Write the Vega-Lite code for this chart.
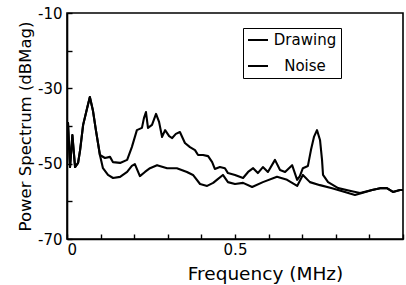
{
  "$schema": "https://vega.github.io/schema/vega-lite/v6.json",
  "autosize": {"type": "none"},
  "padding": {"left": 67, "top": 13, "right": 3, "bottom": 46},
  "width": 336,
  "height": 226,
  "background": "white",
  "config": {
    "font": "DejaVu Sans",
    "view": {"stroke": "black", "strokeWidth": 1.6},
    "axis": {"domainColor": "black", "domainWidth": 1.6, "tickColor": "black", "tickWidth": 1.4, "labelColor": "black", "titleColor": "black", "grid": false, "titleFontWeight": "normal"}
  },
  "data": {"values": [
    {"s":"Drawing","f":0.0,"db":-46.4},{"s":"Drawing","f":0.003,"db":-39.2},{"s":"Drawing","f":0.009,"db":-50.9},{"s":"Drawing","f":0.016,"db":-42.4},{"s":"Drawing","f":0.024,"db":-50.9},{"s":"Drawing","f":0.033,"db":-49.8},{"s":"Drawing","f":0.039,"db":-46.4},{"s":"Drawing","f":0.048,"db":-39.7},{"s":"Drawing","f":0.06,"db":-35.2},{"s":"Drawing","f":0.068,"db":-32.3},{"s":"Drawing","f":0.077,"db":-35.8},{"s":"Drawing","f":0.086,"db":-41.1},{"s":"Drawing","f":0.098,"db":-47.7},{"s":"Drawing","f":0.113,"db":-48.5},{"s":"Drawing","f":0.128,"db":-48.2},{"s":"Drawing","f":0.137,"db":-49.6},{"s":"Drawing","f":0.158,"db":-49.8},{"s":"Drawing","f":0.179,"db":-49.0},{"s":"Drawing","f":0.193,"db":-45.6},{"s":"Drawing","f":0.208,"db":-41.1},{"s":"Drawing","f":0.223,"db":-40.5},{"s":"Drawing","f":0.229,"db":-37.9},{"s":"Drawing","f":0.235,"db":-36.3},{"s":"Drawing","f":0.241,"db":-40.5},{"s":"Drawing","f":0.253,"db":-39.7},{"s":"Drawing","f":0.265,"db":-36.8},{"s":"Drawing","f":0.274,"db":-38.9},{"s":"Drawing","f":0.283,"db":-42.9},{"s":"Drawing","f":0.292,"db":-41.1},{"s":"Drawing","f":0.304,"db":-42.7},{"s":"Drawing","f":0.313,"db":-43.2},{"s":"Drawing","f":0.324,"db":-42.1},{"s":"Drawing","f":0.336,"db":-41.6},{"s":"Drawing","f":0.351,"db":-44.5},{"s":"Drawing","f":0.366,"db":-45.6},{"s":"Drawing","f":0.381,"db":-46.4},{"s":"Drawing","f":0.39,"db":-47.7},{"s":"Drawing","f":0.405,"db":-47.7},{"s":"Drawing","f":0.42,"db":-48.0},{"s":"Drawing","f":0.432,"db":-49.6},{"s":"Drawing","f":0.44,"db":-51.4},{"s":"Drawing","f":0.455,"db":-50.9},{"s":"Drawing","f":0.47,"db":-51.2},{"s":"Drawing","f":0.479,"db":-52.5},{"s":"Drawing","f":0.5,"db":-53.0},{"s":"Drawing","f":0.524,"db":-53.8},{"s":"Drawing","f":0.539,"db":-52.2},{"s":"Drawing","f":0.554,"db":-51.2},{"s":"Drawing","f":0.568,"db":-52.5},{"s":"Drawing","f":0.583,"db":-50.9},{"s":"Drawing","f":0.598,"db":-52.2},{"s":"Drawing","f":0.619,"db":-49.0},{"s":"Drawing","f":0.634,"db":-51.7},{"s":"Drawing","f":0.649,"db":-52.2},{"s":"Drawing","f":0.67,"db":-50.4},{"s":"Drawing","f":0.685,"db":-54.3},{"s":"Drawing","f":0.693,"db":-53.3},{"s":"Drawing","f":0.702,"db":-51.2},{"s":"Drawing","f":0.717,"db":-50.6},{"s":"Drawing","f":0.726,"db":-46.4},{"s":"Drawing","f":0.735,"db":-42.9},{"s":"Drawing","f":0.744,"db":-41.1},{"s":"Drawing","f":0.753,"db":-43.7},{"s":"Drawing","f":0.759,"db":-49.0},{"s":"Drawing","f":0.762,"db":-53.0},{"s":"Drawing","f":0.777,"db":-54.9},{"s":"Drawing","f":0.807,"db":-56.5},{"s":"Drawing","f":0.848,"db":-57.3},{"s":"Drawing","f":0.872,"db":-57.8},{"s":"Drawing","f":0.908,"db":-57.0},{"s":"Drawing","f":0.932,"db":-56.5},{"s":"Drawing","f":0.952,"db":-56.5},{"s":"Drawing","f":0.97,"db":-57.5},{"s":"Drawing","f":0.991,"db":-57.0},{"s":"Drawing","f":1.0,"db":-57.0},
    {"s":"Noise","f":0.0,"db":-46.4},{"s":"Noise","f":0.003,"db":-39.2},{"s":"Noise","f":0.009,"db":-50.9},{"s":"Noise","f":0.016,"db":-42.4},{"s":"Noise","f":0.024,"db":-50.9},{"s":"Noise","f":0.033,"db":-49.8},{"s":"Noise","f":0.039,"db":-46.4},{"s":"Noise","f":0.048,"db":-39.7},{"s":"Noise","f":0.06,"db":-35.2},{"s":"Noise","f":0.068,"db":-32.3},{"s":"Noise","f":0.077,"db":-35.8},{"s":"Noise","f":0.086,"db":-41.1},{"s":"Noise","f":0.098,"db":-47.7},{"s":"Noise","f":0.107,"db":-51.2},{"s":"Noise","f":0.122,"db":-53.0},{"s":"Noise","f":0.137,"db":-53.8},{"s":"Noise","f":0.158,"db":-53.5},{"s":"Noise","f":0.179,"db":-52.2},{"s":"Noise","f":0.193,"db":-50.6},{"s":"Noise","f":0.202,"db":-50.1},{"s":"Noise","f":0.217,"db":-53.3},{"s":"Noise","f":0.232,"db":-52.2},{"s":"Noise","f":0.247,"db":-51.2},{"s":"Noise","f":0.268,"db":-50.4},{"s":"Noise","f":0.298,"db":-51.2},{"s":"Noise","f":0.327,"db":-51.2},{"s":"Noise","f":0.357,"db":-52.2},{"s":"Noise","f":0.375,"db":-53.0},{"s":"Noise","f":0.396,"db":-55.4},{"s":"Noise","f":0.417,"db":-55.9},{"s":"Noise","f":0.435,"db":-55.1},{"s":"Noise","f":0.446,"db":-54.3},{"s":"Noise","f":0.464,"db":-53.0},{"s":"Noise","f":0.479,"db":-54.9},{"s":"Noise","f":0.5,"db":-55.4},{"s":"Noise","f":0.524,"db":-55.1},{"s":"Noise","f":0.551,"db":-56.2},{"s":"Noise","f":0.583,"db":-54.9},{"s":"Noise","f":0.625,"db":-53.5},{"s":"Noise","f":0.655,"db":-54.3},{"s":"Noise","f":0.685,"db":-55.9},{"s":"Noise","f":0.702,"db":-53.0},{"s":"Noise","f":0.723,"db":-54.9},{"s":"Noise","f":0.753,"db":-55.7},{"s":"Noise","f":0.789,"db":-56.5},{"s":"Noise","f":0.827,"db":-57.5},{"s":"Noise","f":0.857,"db":-58.3},{"s":"Noise","f":0.878,"db":-57.8},{"s":"Noise","f":0.908,"db":-57.0},{"s":"Noise","f":0.932,"db":-56.5},{"s":"Noise","f":0.952,"db":-56.5},{"s":"Noise","f":0.97,"db":-57.5},{"s":"Noise","f":0.991,"db":-57.0},{"s":"Noise","f":1.0,"db":-57.0}
  ]},
  "mark": {"type": "line", "strokeWidth": 2.1, "strokeJoin": "round", "clip": true},
  "encoding": {
    "x": {
      "field": "f", "type": "quantitative",
      "scale": {"domain": [0, 1], "nice": false, "zero": false},
      "axis": {
        "values": [0, 0.1, 0.2, 0.3, 0.4, 0.5, 0.6, 0.7, 0.8, 0.9, 1],
        "labelExpr": "datum.value == 0 ? '0' : (abs(datum.value - 0.5) < 0.001 ? '0.5' : '')",
        "tickSize": -5, "labelPadding": 8, "labelFontSize": 15,
        "title": "Frequency (MHz)", "titleFontSize": 18.5, "titleX": 198, "titleY": 25
      }
    },
    "y": {
      "field": "db", "type": "quantitative",
      "scale": {"domain": [-70, -10], "nice": false, "zero": false},
      "axis": {
        "values": [-10, -20, -30, -40, -50, -60, -70],
        "labelExpr": "datum.value % 20 != 0 ? '-' + abs(datum.value) : ''",
        "tickSize": -5, "labelPadding": 10, "labelFontSize": 15,
        "title": "Power Spectrum (dBMag)", "titleFontSize": 16.5, "titlePadding": 4
      }
    },
    "color": {
      "field": "s", "type": "nominal",
      "scale": {"domain": ["Drawing", "Noise"], "range": ["black", "black"]},
      "legend": {
        "title": null, "orient": "none", "legendX": 176, "legendY": 15,
        "strokeColor": "black", "padding": 4, "symbolType": "stroke",
        "symbolSize": 400, "symbolStrokeWidth": 2, "labelFontSize": 15,
        "labelColor": "black", "rowPadding": 10, "clipHeight": 16,
        "labelAlign": "center", "labelOffset": 36
      }
    }
  }
}
